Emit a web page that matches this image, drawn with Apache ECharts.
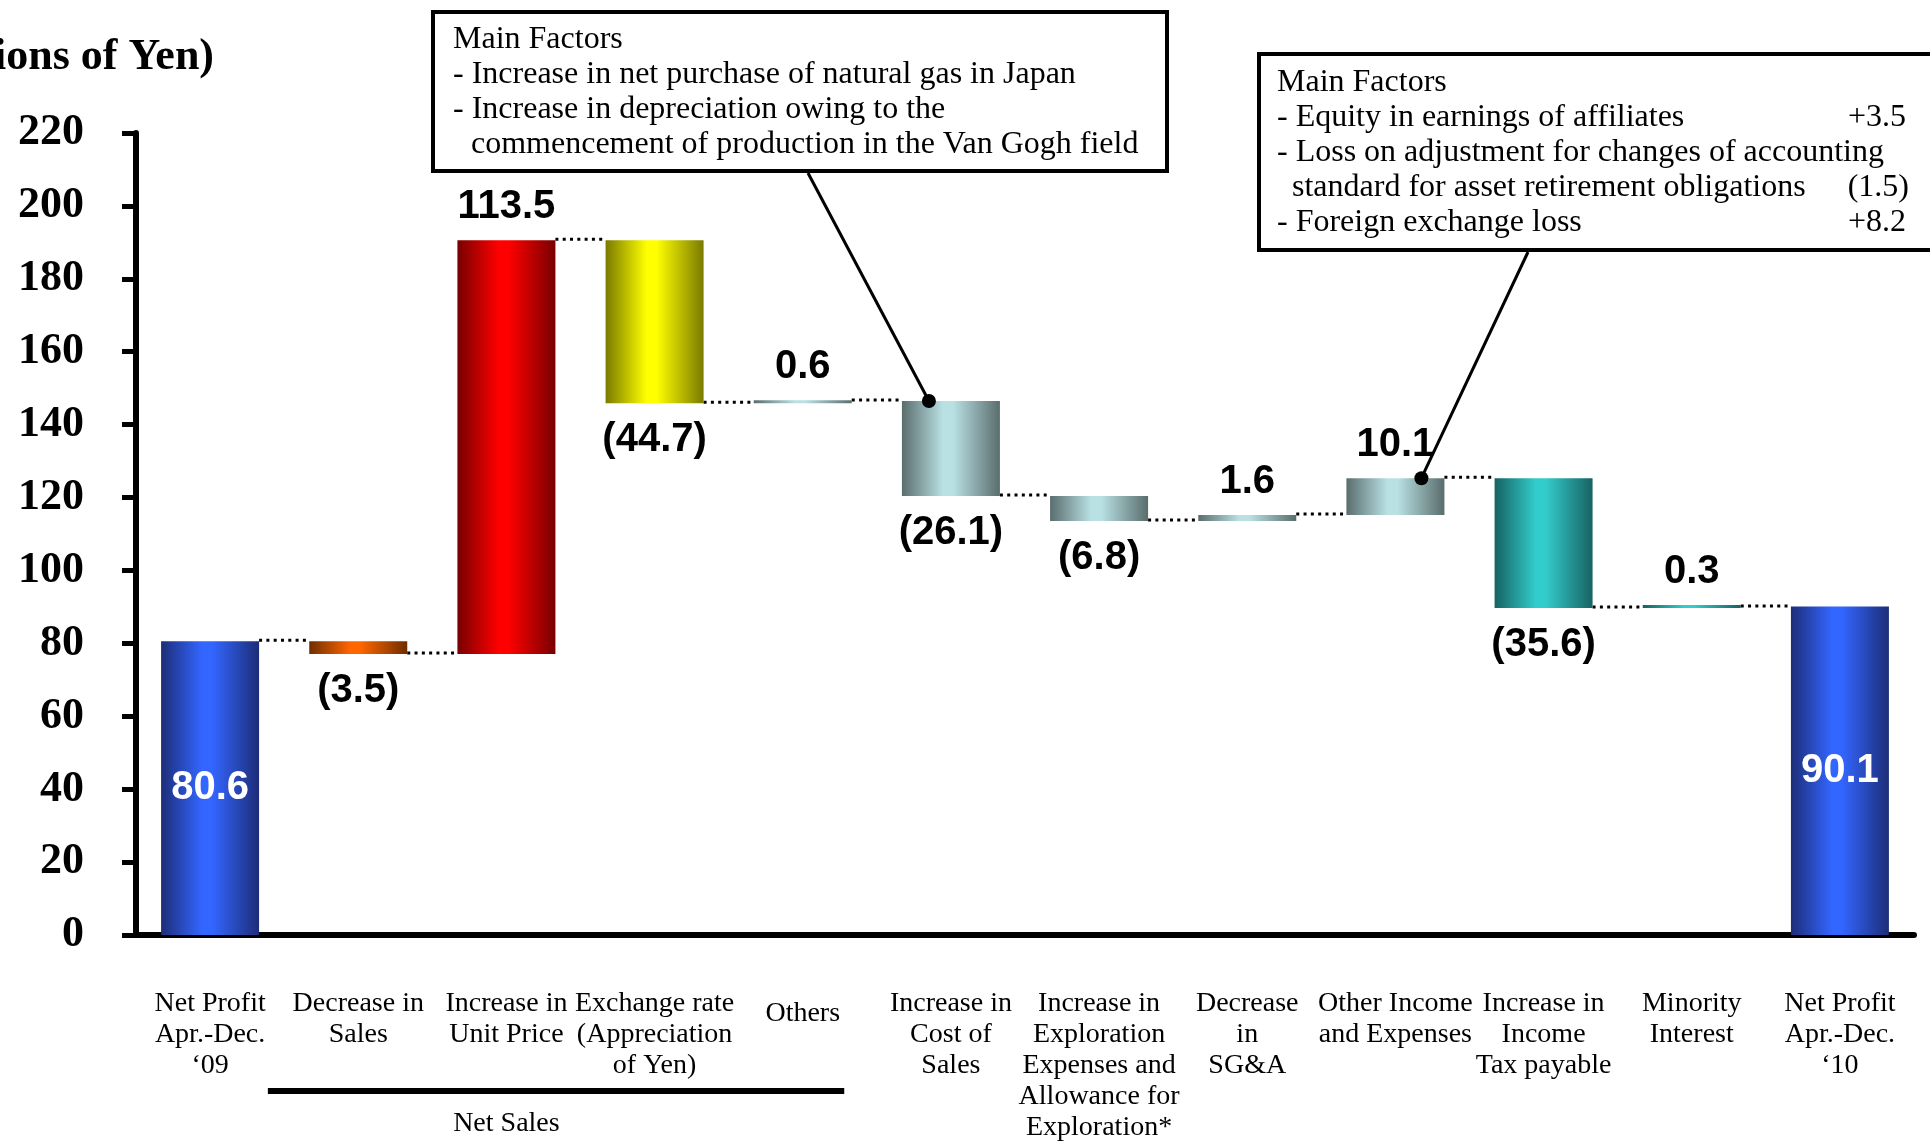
<!DOCTYPE html>
<html><head><meta charset="utf-8">
<script src="https://cdn.jsdelivr.net/npm/echarts@6/dist/echarts.min.js"></script>
<style>html,body{margin:0;padding:0;background:#fff}#c{width:1930px;height:1141px}</style>
</head><body><div id="c"></div>
<script>
// ---------- data ----------
const categories = [
  "Net Profit\nApr.-Dec.\n\u201809",
  "Decrease in\nSales",
  "Increase in\nUnit Price",
  "Exchange rate\n(Appreciation\nof Yen)",
  "Others",
  "Increase in\nCost of\nSales",
  "Increase in\nExploration\nExpenses and\nAllowance for\nExploration*",
  "Decrease\nin\nSG&A",
  "Other Income\nand Expenses",
  "Increase in\nIncome\nTax payable",
  "Minority\nInterest",
  "Net Profit\nApr.-Dec.\n\u201810"
];
const startValue = 80.6;
const deltas = [-3.5, 113.5, -44.7, 0.6, -26.1, -6.8, 1.6, 10.1, -35.6, 0.3];
const endValue = 90.1;
const yMin = 0, yMax = 220, yInterval = 20;
const axisTitle = "(Billions of Yen)";
const groupLabel = "Net Sales";
const box1Lines = [
  "Main Factors",
  "- Increase in net purchase of natural gas in Japan",
  "- Increase in depreciation owing to the",
  "  commencement of production in the Van Gogh field"
];
const box2Lines = [
  "Main Factors",
  "- Equity in earnings of affiliates",
  "- Loss on adjustment for changes of accounting",
  "  standard for asset retirement obligations",
  "- Foreign exchange loss"
];
const box2Values = ["", "+3.5", "", "(1.5)", "+8.2"];

// ---------- styles ----------
const palette = {
  blue:   ["#1d2d78", "#3366ff"],
  orange: ["#6e2e00", "#ff6600"],
  red:    ["#780000", "#ff0000"],
  yellow: ["#7a7a00", "#ffff00"],
  gray:   ["#5a6d6d", "#b9e1e4"],
  teal:   ["#176262", "#33cccc"]
};
const barColorKeys = ["blue","orange","red","yellow","gray","gray","gray","gray","gray","teal","teal","blue"];
function grad(k){
  const c = palette[k];
  return {type:'linear', x:0, y:0, x2:1, y2:0, colorStops:[
    {offset:0, color:c[0]}, {offset:0.42, color:c[1]}, {offset:0.52, color:c[1]}, {offset:1, color:c[0]}]};
}
const BW = 98;
const valueFont = "'Liberation Sans',Arial,sans-serif";
const serif = "'Liberation Serif','Times New Roman',serif";

// ---------- waterfall build ----------
const baseData = [], barData = [], connectors = [];
let lvl = startValue;
baseData.push(0);
barData.push({value:startValue, kind:'total', itemStyle:{color:grad(barColorKeys[0])},
  label:{position:'inside', color:'#fff'}});
connectors.push([0, lvl]);
deltas.forEach((d, j) => {
  const i = j + 1;
  baseData.push(d < 0 ? lvl + d : lvl);
  barData.push({value:Math.abs(d), raw:d, itemStyle:{color:grad(barColorKeys[i])},
    label:{position: d < 0 ? 'bottom' : 'top', distance: d < 0 ? 17 : 13}});
  lvl += d;
  connectors.push([i, lvl]);
});
baseData.push(0);
barData.push({value:endValue, kind:'total', itemStyle:{color:grad(barColorKeys[11])},
  label:{position:'inside', color:'#fff'}});
const levelsAfter = connectors.map(c => c[1]);

const chart = echarts.init(document.getElementById('c'), null, {renderer:'canvas'});
chart.setOption({
  backgroundColor:'#fff',
  animation:false,
  grid:{left:136, right:16, top:133, bottom:206, containLabel:false, outerBoundsMode:'none'},
  xAxis:{
    type:'category', data:categories.map((c,i)=> i===4 ? {value:c, textStyle:{padding:[10,0,0,0]}} : c),
    axisLine:{show:true, lineStyle:{color:'#000', width:6}},
    axisTick:{show:false},
    axisLabel:{interval:0, margin:53, fontFamily:serif, fontSize:28, lineHeight:31, color:'#000', align:'center'}
  },
  yAxis:{
    type:'value', min:yMin, max:yMax, interval:yInterval,
    axisLine:{show:true, lineStyle:{color:'#000', width:6}},
    axisTick:{show:true, length:14, lineStyle:{color:'#000', width:5}},
    splitLine:{show:false},
    axisLabel:{margin:52, fontFamily:serif, fontWeight:'bold', fontSize:44, color:'#000'}
  },
  series:[
    {type:'bar', stack:'w', data:baseData, barWidth:BW, itemStyle:{color:'transparent'}, silent:true},
    {type:'bar', stack:'w', data:barData, barWidth:BW, barMinHeight:3,
      label:{show:true, fontFamily:valueFont, fontWeight:'bold', fontSize:40, color:'#000', distance:13,
        formatter:(p)=>{
          const d = p.data;
          if (d.kind === 'total') return d.value.toFixed(1);
          return d.raw < 0 ? '(' + Math.abs(d.raw).toFixed(1) + ')' : d.raw.toFixed(1);
        }}
    },
    {type:'custom', silent:true, z:1, data:connectors,
      renderItem:(params, api)=>{
        const i = api.value(0), lv = api.value(1);
        if (i >= categories.length - 1) return null;
        const a = api.coord([i, lv]), b = api.coord([i+1, lv]);
        return {type:'line', shape:{x1:a[0]+BW/2, y1:a[1]-1, x2:b[0]-BW/2, y2:a[1]-1},
          style:{stroke:'#000', lineWidth:3, lineDash:[3,4.3]}};
      }
    }
  ]
});

// ---------- annotations ----------
const px = (i, v) => chart.convertToPixel({gridIndex:0}, [i, v]);
const c0 = px(0,0), c1 = px(1, 0), c2 = px(2, 0), c4 = px(4, 0);
const band = c1[0] - c0[0];
const dot1 = px(5, levelsAfter[4]);
const dot2 = px(8, levelsAfter[8]);
const boxFont = "32px " + serif;
const g = [];
g.push({type:'text', x:214, y:58, style:{text:axisTitle, font:"bold 44px " + serif, fill:'#000', align:'right', verticalAlign:'middle'}});
// Net Sales bracket
const bx1 = c1[0] - 0.61*band, bx2 = c4[0] + 0.28*band;
g.push({type:'line', shape:{x1:bx1, y1:1091, x2:bx2, y2:1091}, style:{stroke:'#000', lineWidth:6}});
g.push({type:'text', x:c2[0], y:1124, style:{text:groupLabel, font:"28px " + serif, fill:'#000', align:'center', verticalAlign:'middle'}});
// box 1
g.push({type:'rect', shape:{x:433, y:12, width:734, height:159}, style:{fill:'#fff', stroke:'#000', lineWidth:4}, z:10});
box1Lines.forEach((t, k) => {
  g.push({type:'text', x: t.startsWith('  ') ? 471 : 453, y:40 + k*35, z:11,
    style:{text:t.trim(), font:boxFont, fill:'#000', align:'left', verticalAlign:'middle'}});
});
g.push({type:'line', shape:{x1:808, y1:173, x2:dot1[0]-22, y2:dot1[1]}, style:{stroke:'#000', lineWidth:3}, z:12});
g.push({type:'circle', shape:{cx:dot1[0]-22, cy:dot1[1], r:7}, style:{fill:'#000'}, z:12});
// box 2
g.push({type:'rect', shape:{x:1259, y:54, width:700, height:196}, style:{fill:'#fff', stroke:'#000', lineWidth:4}, z:10});
box2Lines.forEach((t, k) => {
  g.push({type:'text', x: t.startsWith('  ') ? 1292 : 1277, y:83 + k*35, z:11,
    style:{text:t.trim(), font:boxFont, fill:'#000', align:'left', verticalAlign:'middle'}});
  if (box2Values[k]) g.push({type:'text', x: box2Values[k].startsWith('(') ? 1909 : 1906, y:83 + k*35, z:11,
    style:{text:box2Values[k], font:boxFont, fill:'#000', align:'right', verticalAlign:'middle'}});
});
g.push({type:'line', shape:{x1:1528, y1:252, x2:dot2[0]+26, y2:dot2[1]}, style:{stroke:'#000', lineWidth:3}, z:12});
g.push({type:'circle', shape:{cx:dot2[0]+26, cy:dot2[1], r:7}, style:{fill:'#000'}, z:12});
chart.setOption({graphic:g});
</script></body></html>
